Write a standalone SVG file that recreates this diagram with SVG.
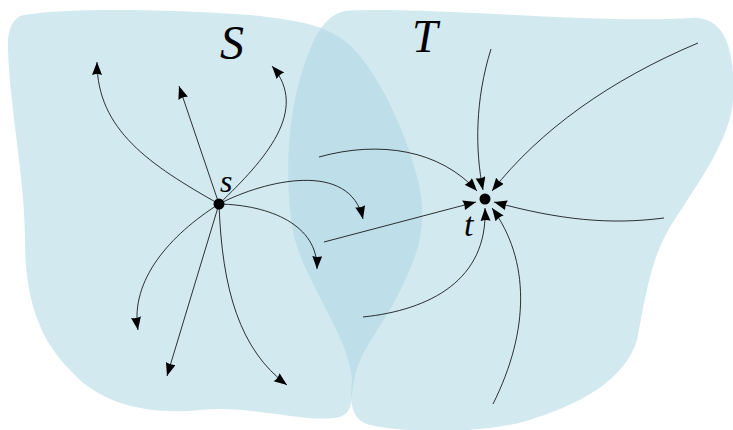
<svg xmlns="http://www.w3.org/2000/svg" width="733" height="430" viewBox="0 0 733 430">
<style>
.blob{fill:#aad5e2;fill-opacity:0.52;stroke:none}
.e{fill:none;stroke:#000;stroke-width:0.8;marker-end:url(#ah)}
.lbl{font-family:"Liberation Serif",serif;font-style:italic;fill:#000}
</style>
<defs>
<marker id="ah" markerUnits="userSpaceOnUse" markerWidth="15" markerHeight="11" refX="13" refY="5" orient="auto">
<path d="M0,0 L13,5 L0,10 Q2,5 0,0 Z" fill="#000"/>
</marker>
</defs>
<rect width="733" height="430" fill="#fff"/>
<g id="S">
<path class="blob" d="M20,16 C60,6 200,10 260,16 C310,22 330,28 350,45 C380,75 405,130 418,180 C430,230 415,260 398,295 C380,330 360,350 354,380 C350,400 355,415 335,418 C300,422 250,405 200,410 C150,415 100,405 70,370 C40,340 25,300 25,240 C25,180 10,110 8,50 C7,35 10,22 20,16 Z"/>
<text class="lbl" x="220" y="59" font-size="48">S</text>
</g>
<g id="T">
<path class="blob" d="M345,11 C420,6 600,24 690,18 C730,15 735,60 733,100 C730,140 700,180 670,227 C650,260 645,300 637,340 C625,380 580,405 523,422 C470,435 400,432 370,425 C350,420 350,400 352,380 C350,340 310,290 295,240 C282,180 288,100 310,50 C318,28 330,14 345,11 Z"/>
<text class="lbl" x="412" y="52" font-size="46">T</text>
</g>
<g id="connectors">
<path class="e" d="M219,204 C150,165 97,130 97,62"/>
<path class="e" d="M219,204 L179,86"/>
<path class="e" d="M219,204 C265,160 310,110 272,66"/>
<path class="e" d="M219,204 C265,180 350,160 363,219"/>
<path class="e" d="M219,204 C270,205 318,225 317,269"/>
<path class="e" d="M219,204 C170,235 130,280 138,330"/>
<path class="e" d="M219,204 L167,376"/>
<path class="e" d="M219,204 C222,290 240,350 287,385"/>
<path class="e" d="M319,157 C380,140 440,150 477,191"/>
<path class="e" d="M491,49 C475,100 475,150 483,190"/>
<path class="e" d="M698,43 C610,80 540,130 492,191"/>
<path class="e" d="M664,218 C610,225 560,220 494,202"/>
<path class="e" d="M493,404 C530,330 530,260 492,208"/>
<path class="e" d="M363,317 C430,310 488,280 485,208"/>
<path class="e" d="M324,242 L476,202"/>
</g>
<g id="s">
<circle cx="219" cy="204" r="5.5" fill="#000"/>
<text class="lbl" x="220" y="192" font-size="32">s</text>
</g>
<g id="t">
<circle cx="485" cy="199" r="5.5" fill="#000"/>
<text class="lbl" x="464" y="236" font-size="34">t</text>
</g>
</svg>
